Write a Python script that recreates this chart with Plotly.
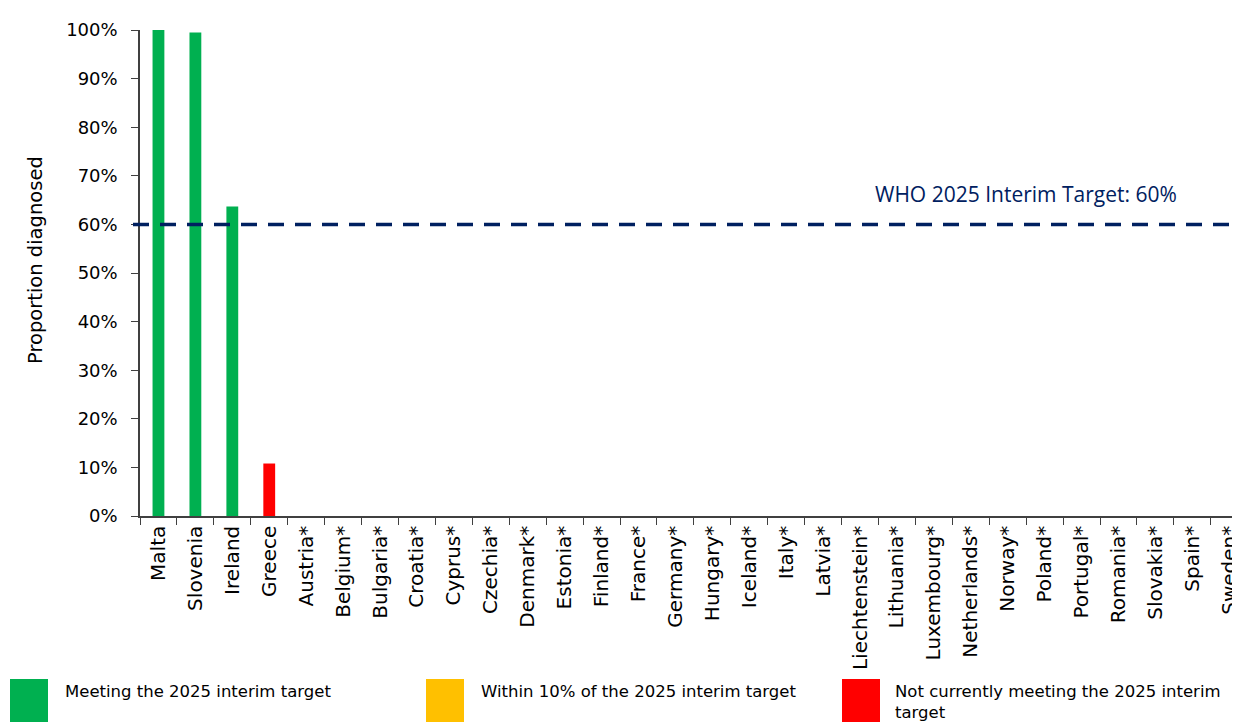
import plotly.graph_objects as go

countries = ["Malta", "Slovenia", "Ireland", "Greece", "Austria*", "Belgium*", "Bulgaria*",
             "Croatia*", "Cyprus*", "Czechia*", "Denmark*", "Estonia*", "Finland*", "France*",
             "Germany*", "Hungary*", "Iceland*", "Italy*", "Latvia*", "Liechtenstein*",
             "Lithuania*", "Luxembourg*", "Netherlands*", "Norway*", "Poland*", "Portugal*",
             "Romania*", "Slovakia*", "Spain*", "Sweden*"]
proportion = [1.00, 0.995, 0.637, 0.108] + [None] * 26
status = ["meeting", "meeting", "meeting", "not"] + ["none"] * 26
target = 0.60
target_label = "WHO 2025 Interim Target: 60%"

status_colors = {"meeting": "#00B050", "within": "#FFC000", "not": "#FF0000", "none": "#FFFFFF"}
legend_items = [("meeting", "Meeting the 2025 interim target"),
                ("within", "Within 10% of the 2025 interim target"),
                ("not", "Not currently meeting the 2025 interim<br>target")]

FONT = "DejaVu Sans, Verdana, sans-serif"
OFF = 8  # page body margin offset
W, H = 1240 - OFF, 722 - OFF
L, T = 140 - OFF, 30 - OFF
B = H - (516 - OFF)
PW = W - L
PH = H - T - B

def px_x(px):
    return (px - OFF - L) / PW

def px_y(py):
    return (H - B - (py - OFF)) / PH

fig = go.Figure()
fig.add_trace(go.Bar(
    x=countries, y=proportion,
    marker=dict(color=[status_colors[s] for s in status], line=dict(width=0)),
    width=0.32, showlegend=False, hoverinfo="x+y",
))

# target line
fig.add_shape(type="line", xref="paper", yref="y", x0=px_x(133), x1=px_x(1232),
              y0=target, y1=target, line=dict(color="#002060", width=3.5, dash="16px,11px"))
fig.add_annotation(xref="paper", yref="y", x=px_x(873), y=target, yshift=30,
                   xanchor="left", yanchor="middle", showarrow=False, text=target_label,
                   font=dict(family="Open Sans, " + FONT, size=21, color="#002060"))

# y-axis title
fig.add_annotation(xref="paper", yref="paper", x=px_x(36), y=px_y(260), textangle=-90,
                   xanchor="center", yanchor="middle", showarrow=False,
                   text="Proportion diagnosed", font=dict(family=FONT, size=19.5, color="#000000"))

# legend
sq_x = [10, 426, 842]
txt_x = [63, 479, 893]
for (key, label), sx, tx in zip(legend_items, sq_x, txt_x):
    fig.add_shape(type="rect", xref="paper", yref="paper", x0=px_x(sx), x1=px_x(sx + 38),
                  y0=px_y(679), y1=px_y(730), fillcolor=status_colors[key], line=dict(width=0))
    fig.add_annotation(xref="paper", yref="paper", x=px_x(tx), y=px_y(680), xanchor="left",
                       yanchor="top", align="left", showarrow=False, text=label,
                       font=dict(family=FONT, size=16.5, color="#000000"))

fig.update_layout(
    width=W, height=H,
    margin=dict(l=L, r=0, t=T, b=B, pad=0),
    plot_bgcolor="white", paper_bgcolor="white",
    font=dict(family=FONT, color="#000000"),
    xaxis=dict(type="category", range=[-0.5, 29.29], tickangle=-90, tickson="boundaries",
               ticks="outside", ticklen=7, tickcolor="#404040", showline=True,
               linecolor="#404040", linewidth=1.5, showgrid=False,
               tickfont=dict(family=FONT, size=20, color="#000000")),
    yaxis=dict(range=[0, 1], tickformat=".0%", dtick=0.1, ticks="outside", ticklen=7,
               tickcolor="#404040", showline=True, linecolor="#404040", linewidth=1.5,
               showgrid=False, zeroline=False, ticklabelstandoff=10,
               tickfont=dict(family=FONT, size=18, color="#000000")),
)

fig.write_html("out.html")
